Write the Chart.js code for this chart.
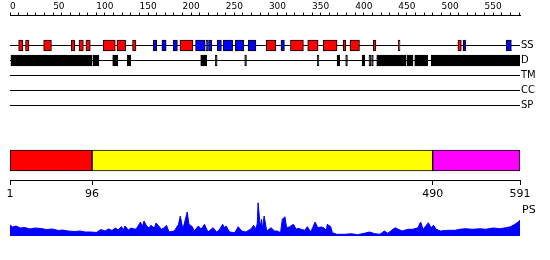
<!DOCTYPE html>
<html>
<head>
<meta charset="utf-8">
<script src="https://cdn.jsdelivr.net/npm/chart.js@4.4.0/dist/chart.umd.min.js"></script>
<style>
  html, body { margin: 0; padding: 0; background: #fff; }
  #wrap { position: relative; width: 550px; height: 260px; overflow: hidden; }
  canvas { position: absolute; left: 0; }
</style>
</head>
<body>
<div id="wrap">
  <canvas id="tracks" width="550" height="121" style="top:0"></canvas>
  <canvas id="domains" width="550" height="70" style="top:140px"></canvas>
  <canvas id="profile" width="550" height="45" style="top:195px"></canvas>
</div>
<script>
const SEQ_LENGTH = 591;
const TRACK_LABELS = ['SS', 'D', 'TM', 'CC', 'SP'];

// secondary structure: helices (red) and strands (blue), residue ranges
const SS_HELIX = [[10, 15], [18, 22], [39, 48], [71, 75], [80, 85], [88, 93], [108, 122], [124, 134],
  [142, 146], [197, 212], [297, 308], [325, 340], [345, 357], [363, 379], [386, 389], [394, 405],
  [421, 424], [450, 452], [519, 523]];
const SS_STRAND = [[166, 170], [176, 181], [189, 194], [215, 226], [227, 229], [230, 234], [240, 245],
  [247, 258], [261, 271], [276, 285], [314, 318], [525, 528], [575, 581]];

// disordered regions
const DISORDER = [[1, 95], [96, 103], [119, 125], [136, 140], [221, 228], [238, 240], [272, 274],
  [356, 358], [379, 382], [389, 391], [408, 411], [416, 418], [419, 421], [425, 459], [460, 467],
  [469, 484], [488, 591]];

// domain bar
const DOMAIN_RANGES = [[1, 96], [96, 490], [490, 591]];
const DOMAIN_TICKS = [1, 96, 490, 591];

// profile along the sequence
const PROFILE_LABEL = 'PS';
const PROFILE_POS = [1, 4, 8, 13, 18, 24, 30, 37, 43, 50, 57, 62, 68, 76, 82, 88, 95, 101, 106, 111,
  115, 119, 123, 126, 130, 132, 134, 138, 141, 145,
  147, 152, 154, 156, 159, 162, 164, 168, 170, 174, 176, 179, 182, 185, 191, 196, 198, 201, 206, 208,
  212, 214, 219, 222, 226, 230, 236, 240, 243, 247, 249, 251, 255, 261, 265, 269, 274, 280, 283, 285,
  287, 288, 290, 291, 292, 293, 295, 298,
  303, 307, 310, 314, 316, 319, 321, 324, 329, 332, 334, 338, 342, 345, 349, 351, 354, 357, 361, 364,
  367, 368, 372, 374, 379, 388, 396, 403, 411, 417, 423, 429, 434, 438, 444,
  447, 450, 455, 461, 467, 473, 476, 479, 482, 485, 488, 491, 494, 499, 507, 516, 521, 528, 536, 545,
  551, 560, 568, 575, 580, 585, 589, 591];
const PROFILE_VAL = [11, 9, 10, 8, 8.5, 7, 8, 7.5, 6.5, 7, 5.5, 6, 5, 4.5, 5, 4, 4, 3.5, 6.5, 5,
  7, 5.5, 8, 6, 9.5, 6, 10, 6, 8, 7,
  7, 14, 9, 15, 10, 8, 10.7, 8, 13, 9, 6.7, 8, 10.7, 4, 5, 11.7, 20, 6.7, 24, 11.7,
  9.3, 5, 10, 6.7, 11.7, 4, 8.3, 4, 6, 11.7, 8.3, 10, 4, 3.3, 9.3, 5, 4, 7.3, 10.7, 6.7,
  12, 33.3, 14, 10, 16.7, 7, 20, 5,
  8.3, 5, 5, 3.3, 16.7, 19.3, 8.3, 9, 11.7, 6.7, 7.7, 6.7, 5.7, 9.3, 4, 8.3, 14, 8.3, 9, 8.3,
  5.7, 11.7, 9.3, 3.3, 1.7, 1.7, 2.3, 1.3, 2.7, 4, 2.3, 1.7, 5, 2.7, 6.7,
  8.3, 6.7, 5, 6.7, 6.7, 8.3, 14, 6.7, 10, 13.3, 8.3, 10.7, 6.7, 5, 5.7, 5.7, 6.7, 7.3, 6.7, 7.3,
  6.7, 8, 7.3, 8.3, 9.3, 11.7, 14, 16];

Chart.defaults.font.family = '"DejaVu Sans", sans-serif';
Chart.defaults.color = '#000';
Chart.defaults.animation = false;

const noPlugins = { legend: { display: false }, tooltip: { enabled: false } };
const trackY = name => TRACK_LABELS.indexOf(name) + 2;

// fixed axis width, and no extra room reserved for the end labels
function rightAxisFit(s) {
    s.width = 30;
    s.paddingTop = 0;
    s.paddingBottom = 0;
}

function featureBars(ranges, track) {
    return ranges.map(([s, e]) => ({ x: [s, e], y: trackY(track) }));
}

// --- tracks with the ruler on top
new Chart(document.getElementById('tracks'), {
    type: 'bar',
    data: {
        datasets: [
            { data: featureBars(SS_HELIX, 'SS'), backgroundColor: '#ff0000' },
            { data: featureBars(SS_STRAND, 'SS'), backgroundColor: '#0000ff' },
            { data: featureBars(DISORDER, 'D'), backgroundColor: '#000000' }
        ]
    },
    options: {
        indexAxis: 'y',
        responsive: false,
        layout: { padding: { left: 10, top: 0, right: 0, bottom: 0.5 } },
        datasets: { bar: { grouped: false, barThickness: 11, borderWidth: 1, borderColor: '#000', borderSkipped: false } },
        plugins: noPlugins,
        scales: {
            x: {
                type: 'linear', position: 'top', min: 0, max: SEQ_LENGTH,
                afterFit: s => { s.height = 15.5; s.paddingLeft = 0; s.paddingRight = 0; },
                border: { display: true, color: '#000', width: 1 },
                grid: { drawOnChartArea: false, drawTicks: true, tickLength: 3, color: '#000' },
                ticks: {
                    stepSize: 10, includeBounds: false, autoSkip: false, maxRotation: 0, minRotation: 0,
                    align: 'start', padding: 0, font: { size: 9 },
                    callback: v => (v % 50 === 0 ? v : '')
                }
            },
            y: {
                type: 'linear', position: 'right', reverse: true, min: 0, max: 7, offset: false,
                afterFit: rightAxisFit,
                border: { display: false },
                grid: {
                    offset: false, drawTicks: false, tickLength: 0,
                    color: ctx => (ctx.tick && TRACK_LABELS[ctx.tick.value - 2] ? '#000' : 'rgba(0,0,0,0)')
                },
                ticks: { stepSize: 1, autoSkip: false, padding: 1, font: { size: 10 }, callback: v => TRACK_LABELS[v - 2] || '' }
            }
        }
    }
});

// --- domain bar with its own axis
new Chart(document.getElementById('domains'), {
    type: 'bar',
    data: {
        datasets: [{
            data: DOMAIN_RANGES.map(([s, e]) => ({ x: [s, e], y: 0 })),
            backgroundColor: ['#ff0000', '#ffff00', '#ff00ff']
        }]
    },
    options: {
        indexAxis: 'y',
        responsive: false,
        layout: { padding: { left: 10, right: 30, top: 0, bottom: 0 } },
        datasets: { bar: { grouped: false, barThickness: 21, borderWidth: 1, borderColor: '#000', borderSkipped: false } },
        plugins: noPlugins,
        scales: {
            x: {
                type: 'linear', min: 1, max: SEQ_LENGTH,
                afterFit: s => { s.height = 30; s.paddingLeft = 0; s.paddingRight = 0; },
                afterBuildTicks: s => { s.ticks = DOMAIN_TICKS.map(v => ({ value: v })); },
                border: { display: true, color: '#000' },
                grid: { drawOnChartArea: false, tickLength: 5, color: '#000' },
                ticks: { autoSkip: false, maxRotation: 0, padding: 3, font: { size: 11 } }
            },
            y: { type: 'linear', display: false, min: -0.975, max: 1.025, offset: false }
        }
    }
});

// --- profile
new Chart(document.getElementById('profile'), {
    type: 'line',
    data: {
        datasets: [{
            data: PROFILE_POS.map((p, i) => ({ x: p, y: PROFILE_VAL[i] })),
            borderColor: '#0000ff',
            backgroundColor: '#0000ff',
            borderWidth: 1,
            fill: 'origin',
            pointRadius: 0,
            tension: 0
        }]
    },
    options: {
        responsive: false,
        layout: { padding: { left: 10, right: 0, top: 0, bottom: 4 } },
        plugins: noPlugins,
        scales: {
            x: { type: 'linear', display: false, min: 1, max: SEQ_LENGTH },
            y: {
                type: 'linear', position: 'right', min: 0, max: 41,
                afterFit: rightAxisFit,
                afterBuildTicks: s => { s.ticks = [{ value: 26 }]; },
                border: { display: false },
                grid: { display: false, drawTicks: false, tickLength: 0 },
                ticks: { padding: 2, font: { size: 11 }, callback: () => PROFILE_LABEL }
            }
        }
    }
});
</script>
</body>
</html>
